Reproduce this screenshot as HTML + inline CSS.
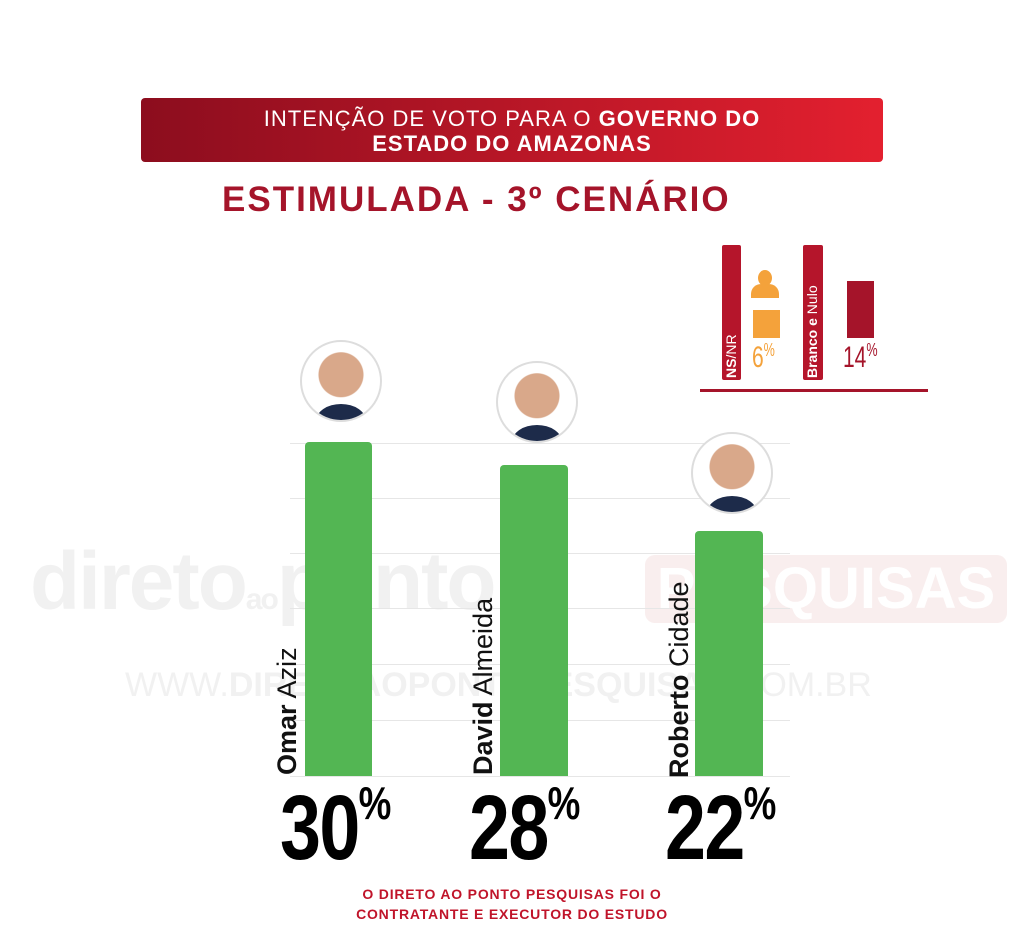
<!DOCTYPE html>
<html><head><meta charset="utf-8"><style>
body{margin:0;width:1024px;height:935px;background:#fff;position:relative;overflow:hidden;font-family:"Liberation Sans",sans-serif}
.a{position:absolute}
.grid{position:absolute;left:290px;width:500px;height:1px;background:#e6e6e6}
.bar{position:absolute;background:#53b653;border-radius:4px 4px 0 0}
.ph{position:absolute;width:78px;height:78px;border-radius:50%;border:2px solid #ddd;background:radial-gradient(circle at 50% 42%,#d9a88a 0 22px,#fff 23px);overflow:hidden}
.ph:after{content:"";position:absolute;left:14px;right:14px;bottom:-18px;height:34px;border-radius:50% 50% 0 0;background:#1d2b4a}
.name{position:absolute;transform:rotate(-90deg);transform-origin:left top;font-size:27px;white-space:nowrap;color:#111}
.pct{position:absolute;font-weight:bold;font-size:92px;line-height:1;color:#000;transform:scaleX(0.8);transform-origin:left top;letter-spacing:-2px}
.pct sup{font-size:46px;vertical-align:top;position:relative;top:-2px}
</style></head><body>
<div class="a" style="left:141px;top:98px;width:742px;height:64px;border-radius:4px;background:linear-gradient(90deg,#8c0d1e,#e3202f);color:#fff;text-align:center;font-size:22px;line-height:25px;padding-top:8px;box-sizing:border-box;letter-spacing:1px">INTENÇÃO DE VOTO PARA O <b>GOVERNO DO<br>ESTADO DO AMAZONAS</b></div>
<div class="a" style="left:222px;top:180px;font-size:35px;font-weight:bold;color:#a5142a;letter-spacing:2px">ESTIMULADA - 3º CENÁRIO</div>
<div class="a" style="left:30px;top:535px;font-size:82px;font-weight:bold;color:#f1f1f1;letter-spacing:-2px">direto<span style="font-size:30px">ao</span>ponto</div>
<div class="a" style="left:645px;top:555px;width:362px;height:68px;background:#f9eeee;border-radius:10px;color:#fff;font-size:58px;font-weight:bold;text-align:center;line-height:68px">PESQUISAS</div>
<div class="a" style="left:125px;top:666px;font-size:34px;color:#f1f1f1;font-weight:bold;white-space:nowrap"><span style="font-weight:normal">WWW.</span>DIRETOAOPONTOPESQUISAS<span style="font-weight:normal">.COM.BR</span></div>
<div class="grid" style="top:443px"></div><div class="grid" style="top:498px"></div><div class="grid" style="top:553px"></div><div class="grid" style="top:608px"></div><div class="grid" style="top:664px"></div><div class="grid" style="top:720px"></div><div class="grid" style="top:776px"></div>
<div class="bar" style="left:305px;top:442px;width:67px;height:334px"></div>
<div class="bar" style="left:500px;top:465px;width:68px;height:311px"></div>
<div class="bar" style="left:695px;top:531px;width:68px;height:245px"></div>
<div class="ph" style="left:300px;top:340px"></div>
<div class="ph" style="left:496px;top:361px"></div>
<div class="ph" style="left:691px;top:432px"></div>
<div class="name" style="left:272px;top:775px"><b>Omar</b> Aziz</div>
<div class="name" style="left:468px;top:775px"><b>David</b> Almeida</div>
<div class="name" style="left:664px;top:778px"><b>Roberto</b> Cidade</div>
<div class="pct" style="left:280px;top:782px">30<sup>%</sup></div>
<div class="pct" style="left:469px;top:782px">28<sup>%</sup></div>
<div class="pct" style="left:665px;top:782px">22<sup>%</sup></div>
<div class="a" style="left:722px;top:245px;width:19px;height:135px;background:#b5152b;border-radius:2px"></div>
<div class="name" style="left:723px;top:378px;font-size:14px;color:#fff"><b>NS</b>/NR</div>
<div class="a" style="left:758px;top:270px;width:14px;height:16px;border-radius:50%;background:#f4a23b"></div>
<div class="a" style="left:751px;top:284px;width:28px;height:14px;border-radius:10px 10px 0 0;background:#f4a23b"></div>
<div class="a" style="left:753px;top:310px;width:27px;height:28px;background:#f4a23b"></div>
<div class="a" style="left:752px;top:340px;font-size:30px;color:#f4a23b;transform:scaleX(.7);transform-origin:left top">6<sup style="font-size:18px">%</sup></div>
<div class="a" style="left:803px;top:245px;width:20px;height:135px;background:#b5152b;border-radius:2px"></div>
<div class="name" style="left:804px;top:378px;font-size:14px;color:#fff"><b>Branco e</b> Nulo</div>
<div class="a" style="left:847px;top:281px;width:27px;height:57px;background:#a5142a"></div>
<div class="a" style="left:843px;top:340px;font-size:30px;color:#a5142a;transform:scaleX(.7);transform-origin:left top">14<sup style="font-size:18px">%</sup></div>
<div class="a" style="left:700px;top:389px;width:228px;height:3px;background:#a5142a"></div>
<div class="a" style="left:0;width:1024px;top:884px;text-align:center;color:#c0142a;font-weight:bold;font-size:14px;line-height:20px;letter-spacing:0.8px">O DIRETO AO PONTO PESQUISAS FOI O<br>CONTRATANTE E EXECUTOR DO ESTUDO</div>
</body></html>
